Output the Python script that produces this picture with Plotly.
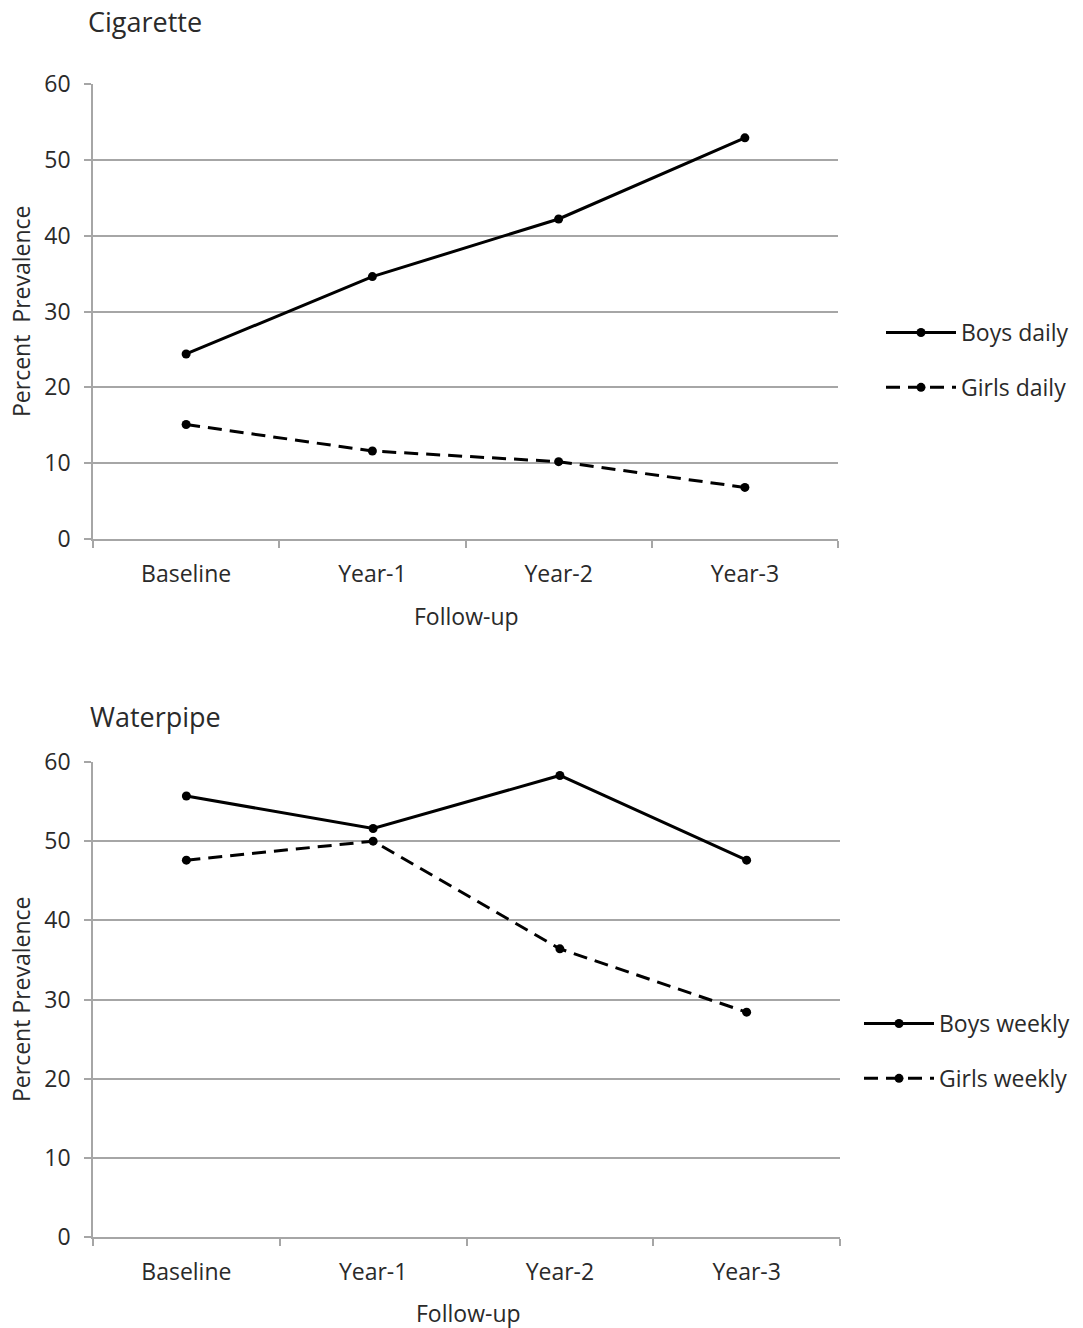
import plotly.graph_objects as go

categories = ["Baseline", "Year-1", "Year-2", "Year-3"]
cig_boys_daily = [24.4, 34.6, 42.2, 52.9]
cig_girls_daily = [15.1, 11.6, 10.2, 6.8]
wp_boys_weekly = [55.7, 51.6, 58.3, 47.6]
wp_girls_weekly = [47.6, 50.0, 36.4, 28.4]
y_ticks = [0, 10, 20, 30, 40, 50, 60]

W, H = 1083, 1328
FONT = "Open Sans"
TXT = "#2a2a2a"
GRID = "#a6a6a6"
FS = 23

def px_x(p):
    return p / W

def px_y(p):
    return 1 - p / H

fig = go.Figure()

line_solid = dict(color="black", width=3)
line_dash = dict(color="black", width=3, dash="14px,8px")
mk = dict(color="black", size=9, symbol="circle")

fig.add_trace(go.Scatter(x=categories, y=cig_boys_daily, mode="lines+markers", name="Boys daily",
                         line=line_solid, marker=mk, xaxis="x", yaxis="y", legend="legend", legendgroup="a"))
fig.add_trace(go.Scatter(x=categories, y=cig_girls_daily, mode="lines+markers", name="Girls daily",
                         line=line_dash, marker=mk, xaxis="x", yaxis="y", legend="legend", legendgroup="b"))
fig.add_trace(go.Scatter(x=categories, y=wp_boys_weekly, mode="lines+markers", name="Boys weekly",
                         line=line_solid, marker=mk, xaxis="x2", yaxis="y2", legend="legend2", legendgroup="c"))
fig.add_trace(go.Scatter(x=categories, y=wp_girls_weekly, mode="lines+markers", name="Girls weekly",
                         line=line_dash, marker=mk, xaxis="x2", yaxis="y2", legend="legend2", legendgroup="d"))

xaxis_common = dict(type="category", categoryorder="array", categoryarray=categories,
                    range=[-0.5, 3.5], tickson="boundaries", ticks="outside", ticklen=7,
                    tickcolor=GRID, tickwidth=1.5, showline=True, linecolor=GRID, linewidth=1.5,
                    showgrid=False, zeroline=False, automargin=False, ticklabelstandoff=14,
                    tickfont=dict(family=FONT, size=FS, color=TXT), fixedrange=True)
yaxis_common = dict(range=[0, 60], tickvals=y_ticks, ticks="outside", ticklen=7, tickcolor=GRID,
                    tickwidth=1.5, showline=True, linecolor=GRID, linewidth=1.5,
                    showgrid=True, gridcolor=GRID, gridwidth=1.5, zeroline=False, automargin=False,
                    ticklabelstandoff=9,
                    tickfont=dict(family=FONT, size=FS, color=TXT), fixedrange=True)

fig.update_layout(
    width=W, height=H,
    margin=dict(l=0, r=0, t=0, b=0),
    paper_bgcolor="white", plot_bgcolor="white",
    xaxis=dict(domain=[px_x(93), px_x(838)], anchor="y", **xaxis_common),
    yaxis=dict(domain=[px_y(539), px_y(84)], anchor="x", **yaxis_common),
    xaxis2=dict(domain=[px_x(93), px_x(840)], anchor="y2", **xaxis_common),
    yaxis2=dict(domain=[px_y(1237), px_y(762)], anchor="x2", **yaxis_common),
    legend=dict(x=px_x(881), y=px_y(311), xanchor="left", yanchor="top",
                font=dict(family=FONT, size=FS, color=TXT), itemwidth=70,
                traceorder="grouped", tracegroupgap=22, bgcolor="rgba(0,0,0,0)"),
    legend2=dict(x=px_x(859), y=px_y(1002), xanchor="left", yanchor="top",
                 font=dict(family=FONT, size=FS, color=TXT), itemwidth=70,
                 traceorder="grouped", tracegroupgap=22, bgcolor="rgba(0,0,0,0)"),
    showlegend=True,
)

annotations = [
    dict(text="Cigarette", x=px_x(86), y=px_y(22), xanchor="left", yanchor="middle",
         font=dict(family=FONT, size=27, color=TXT)),
    dict(text="Waterpipe", x=px_x(88), y=px_y(716), xanchor="left", yanchor="middle",
         font=dict(family=FONT, size=27, color=TXT)),
    dict(text="Percent  Prevalence", x=px_x(21), y=px_y(311), xanchor="center", yanchor="middle",
         textangle=-90, font=dict(family=FONT, size=FS, color=TXT)),
    dict(text="Percent Prevalence", x=px_x(21), y=px_y(999), xanchor="center", yanchor="middle",
         textangle=-90, font=dict(family=FONT, size=FS, color=TXT)),
    dict(text="Follow-up", x=px_x(466), y=px_y(616), xanchor="center", yanchor="middle",
         font=dict(family=FONT, size=FS, color=TXT)),
    dict(text="Follow-up", x=px_x(468), y=px_y(1313), xanchor="center", yanchor="middle",
         font=dict(family=FONT, size=FS, color=TXT)),
]
for a in annotations:
    a.update(xref="paper", yref="paper", showarrow=False)
fig.update_layout(annotations=annotations)

fig.write_html("out.html", config={"displayModeBar": False},
               post_script="document.body.style.margin='0';document.body.style.padding='0';")
